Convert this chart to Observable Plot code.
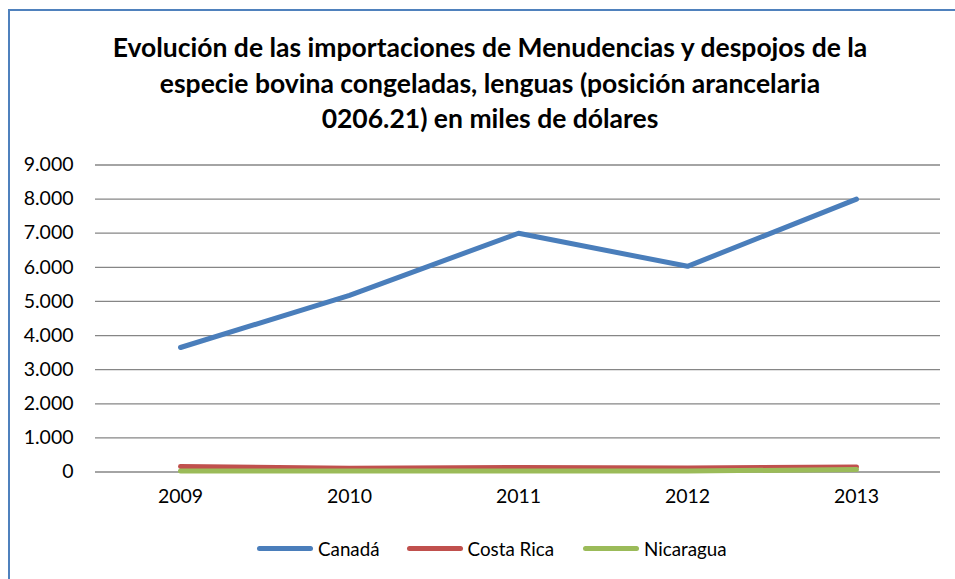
<!DOCTYPE html>
<html><head><meta charset="utf-8">
<script src="https://cdn.jsdelivr.net/npm/d3@7"></script>
<script src="https://cdn.jsdelivr.net/npm/@observablehq/plot@0.6"></script>
<style>
body{margin:0;background:#fff;font-family:Lato,"Open Sans",sans-serif;}
#wrap{position:relative;width:955px;height:579px;overflow:hidden;background:#fff;}
#frame{position:absolute;left:8px;top:9px;width:1000px;height:700px;border:2px solid #4f81bd;box-sizing:border-box;}
#title{position:absolute;left:10px;width:960px;top:30px;text-align:center;font-weight:bold;font-size:26.5px;line-height:35.5px;color:#000;}
#chart{position:absolute;left:0;top:0;}
#chart svg text{font-family:Lato,"Open Sans",sans-serif !important;font-size:19.5px !important;}
#legend{position:absolute;left:257px;top:536px;display:flex;align-items:center;font-size:18.8px;color:#000;height:24px;}
.item{display:flex;align-items:center;}
.sw{display:inline-block;width:56px;height:5px;border-radius:3px;margin-right:5px;}
</style></head>
<body>
<div id="wrap">
  <div id="frame"></div>
  <div id="chart"></div>
  <div id="title">Evolución de las importaciones de Menudencias y despojos de la<br>especie bovina congeladas, lenguas (posición arancelaria<br>0206.21) en miles de dólares</div>
  <div id="legend"></div>
</div>
<script>
const years = ["2009", "2010", "2011", "2012", "2013"];
const seriesNames = ["Canadá", "Costa Rica", "Nicaragua"];
const canada = [3650, 5180, 7000, 6030, 8000];
const costaRica = [160, 110, 130, 120, 150];
const nicaragua = [30, 30, 30, 30, 70];
const seriesColors = ["#4a7ebb", "#c0504d", "#9bbb59"];
const yTicks = [0, 1000, 2000, 3000, 4000, 5000, 6000, 7000, 8000, 9000];

const valuesBySeries = [canada, costaRica, nicaragua];
const data = [];
seriesNames.forEach((s, i) => years.forEach((y, j) => data.push({series: s, year: y, value: valuesBySeries[i][j]})));

const fmt = d3.formatLocale({decimal: ",", thousands: ".", grouping: [3], currency: ["", ""]}).format(",");

const chart = Plot.plot({
  width: 955,
  height: 579,
  marginLeft: 95,
  marginRight: 15,
  marginTop: 164.5,
  marginBottom: 107.5,
  style: {fontFamily: "Lato, 'Open Sans', sans-serif", fontSize: "19.5px", color: "#000", background: "transparent"},
  x: {type: "point", domain: years, padding: 0.5, label: null},
  y: {domain: [0, 9000], label: null},
  color: {domain: seriesNames, range: seriesColors},
  marks: [
    Plot.ruleY(yTicks, {stroke: "#868686", strokeWidth: 1.3}),
    Plot.axisY(yTicks, {tickSize: 0, tickPadding: 22, tickFormat: fmt, fontSize: 19.5, label: null}),
    Plot.axisX({tickSize: 0, tickPadding: 17, fontSize: 19.5, label: null}),
    Plot.line(data, {x: "year", y: "value", z: "series", stroke: "series", strokeWidth: 5, strokeLinecap: "round", strokeLinejoin: "round"})
  ]
});
document.getElementById("chart").appendChild(chart);

const legend = document.getElementById("legend");
seriesNames.forEach((s, i) => {
  const it = document.createElement("div");
  it.className = "item";
  it.style.marginRight = i === 0 ? "27px" : "29px";
  const sw = document.createElement("span");
  sw.className = "sw";
  sw.style.background = seriesColors[i];
  const t = document.createElement("span");
  t.textContent = s;
  it.appendChild(sw); it.appendChild(t);
  legend.appendChild(it);
});
</script>
</body></html>
